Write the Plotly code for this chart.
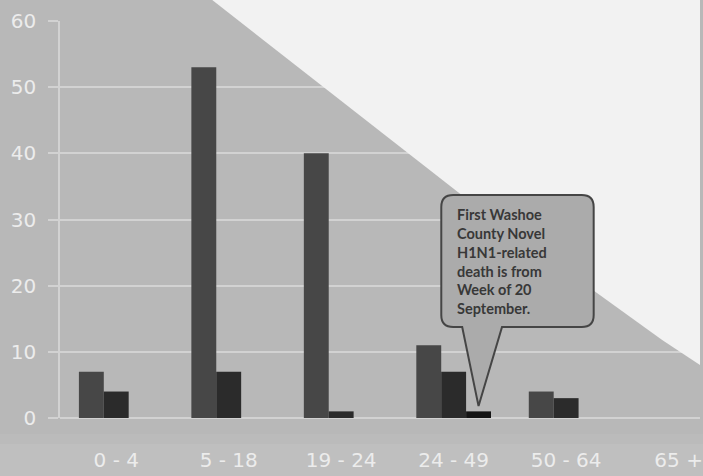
import plotly.graph_objects as go

# Age groups and case counts per series
categories = ["0 - 4", "5 - 18", "19 - 24", "24 - 49", "50 - 64", "65 +"]
series_a = [7, 53, 40, 11, 4, 0]
series_b = [4, 7, 1, 7, 3, 0]
series_c = [0, 0, 0, 1, 0, 0]
y_ticks = [0, 10, 20, 30, 40, 50, 60]

callout_lines = ["First Washoe", "County Novel", "H1N1-related",
                 "death is from", "Week of 20", "September."]

W, H = 703, 476
M_L, M_R, M_T, M_B = 60, 0, 21, 58
plot_w = W - M_L - M_R
plot_h = H - M_T - M_B

BG = "#b8b8b8"
GRID = "#d2d2d2"
TICK_FONT = dict(family="DejaVu Sans", size=20, color="#ececec")

x_pos = list(range(len(categories)))
BARGAP = 0.336
n_series = 3
bar_w = (1 - BARGAP) / n_series
x_min, x_max = -0.5, -0.5 + plot_w / 113.0

fig = go.Figure()
for name, vals, color in [("A", series_a, "#474747"),
                          ("B", series_b, "#2b2b2b"),
                          ("C", series_c, "#141414")]:
    fig.add_trace(go.Bar(
        x=x_pos, y=vals, name=name,
        marker=dict(color=color, line=dict(width=0)),
    ))


def px_to_paper(px, py):
    return (px - M_L) / plot_w, (H - M_B - py) / plot_h


# light diagonal corner in the upper right
corner_px = [(213, 0), (470, 200), (665, 340), (703, 365), (703, 0)]
pts = [px_to_paper(*p) for p in corner_px]
corner_path = "M " + " L ".join(f"{x:.4f},{y:.4f}" for x, y in pts) + " Z"

# softly lighter bands behind the category labels
bands = [(434, 444, "#bbbbbb"), (444, 476, "#bfbfbf")]
band_shapes = []
for top, bot, col in bands:
    band_shapes.append(dict(
        type="rect", xref="paper", yref="paper", x0=-0.2, x1=1.1,
        y0=px_to_paper(0, bot)[1], y1=px_to_paper(0, top)[1],
        fillcolor=col, line_width=0, layer="below"))

# callout bubble pointing at the 24 - 49 group's third bar
idx = categories.index("24 - 49")
tip_x = idx + bar_w
tip_y = series_c[idx] + 0.8
bx0, bx1 = 2.89, 4.245
by_top, by_bot = 33.7, 13.75
rx, ry = 0.106, 1.81
tail_l, tail_r = 3.076, 3.43
bubble = (
    f"M {bx0+rx},{by_top} L {bx1-rx},{by_top} Q {bx1},{by_top} {bx1},{by_top-ry} "
    f"L {bx1},{by_bot+ry} Q {bx1},{by_bot} {bx1-rx},{by_bot} "
    f"L {tail_r},{by_bot} L {tip_x},{tip_y} L {tail_l},{by_bot} "
    f"L {bx0+rx},{by_bot} Q {bx0},{by_bot} {bx0},{by_bot+ry} "
    f"L {bx0},{by_top-ry} Q {bx0},{by_top} {bx0+rx},{by_top} Z"
)

fig.update_layout(
    width=W, height=H,
    margin=dict(l=M_L, r=M_R, t=M_T, b=M_B, pad=0),
    paper_bgcolor=BG, plot_bgcolor="rgba(0,0,0,0)",
    barmode="group", bargap=BARGAP, bargroupgap=0,
    showlegend=False,
    xaxis=dict(
        range=[x_min, x_max], tickmode="array", tickvals=x_pos, ticktext=categories,
        showgrid=False, zeroline=False, showline=False, ticks="",
        tickfont=TICK_FONT, ticklabelstandoff=28, ticklabeloverflow="allow",
    ),
    yaxis=dict(
        range=[0, 60], tickmode="array", tickvals=y_ticks,
        showgrid=True, gridcolor=GRID, gridwidth=2,
        zeroline=True, zerolinecolor=GRID, zerolinewidth=2,
        showline=True, linecolor=GRID, linewidth=1.5,
        ticks="outside", ticklen=10, tickcolor=GRID, tickwidth=2,
        tickfont=TICK_FONT, ticklabelstandoff=8,
    ),
    shapes=band_shapes + [
        dict(type="path", xref="paper", yref="paper", path=corner_path,
             fillcolor="#f2f2f2", line_width=0, layer="above"),
        dict(type="path", xref="x", yref="y", path=bubble,
             fillcolor="#ababab", line=dict(color="#454545", width=2),
             layer="above"),
    ],
    annotations=[
        dict(xref="x", yref="y", x=3.014, y=32.4, xanchor="left", yanchor="top",
             align="left", showarrow=False, text="<br>".join(callout_lines),
             font=dict(family="Lato", size=14.5, color="#383838", weight=700)),
    ],
)

fig.write_html("out.html")
